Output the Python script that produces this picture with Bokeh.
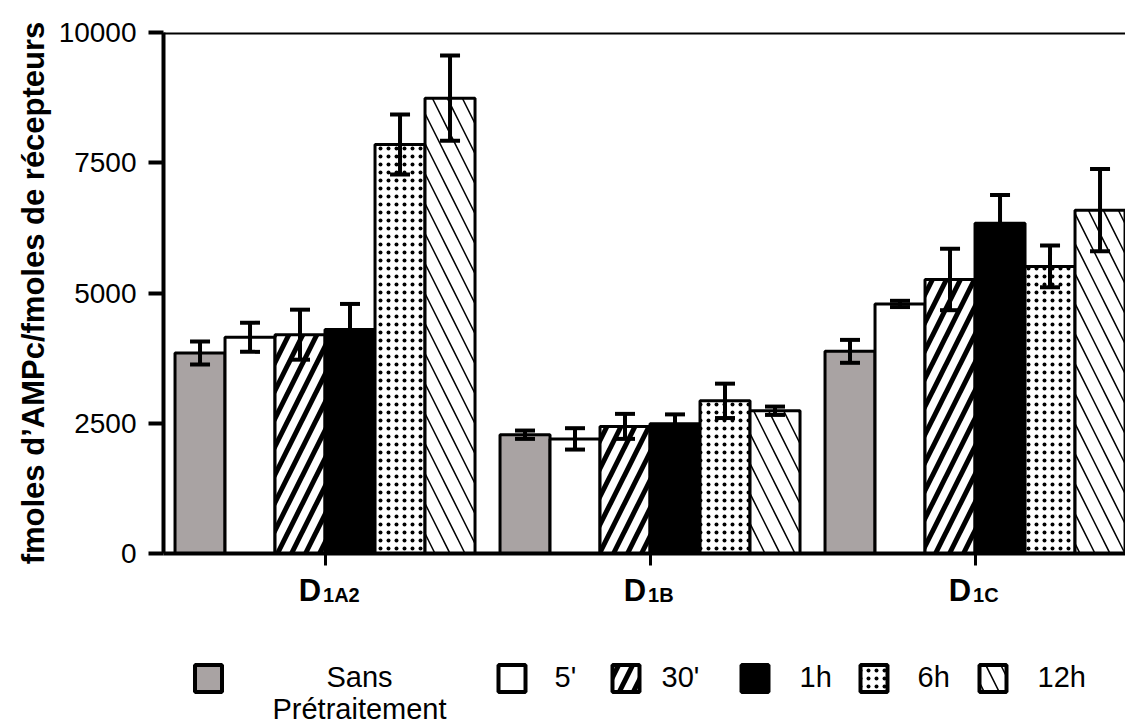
from bokeh.plotting import figure
from bokeh.models import (Range1d, FixedTicker, Span, Whisker, TeeHead, ColumnDataSource,
                          CustomJSTickFormatter)
from bokeh.layouts import column
from bokeh.embed import file_html
from bokeh.resources import INLINE
from bokeh.core.properties import value

# ---------------- data ----------------
groups = ["D1A2", "D1B", "D1C"]
group_main = ["D", "D", "D"]
group_sub = ["1A2", "1B", "1C"]
series = ["Sans Prétraitement", "5'", "30'", "1h", "6h", "12h"]
legend_labels = ["Sans\nPrétraitement", "5'", "30'", "1h", "6h", "12h"]

sans = [3850, 2280, 3880]
m5 = [4150, 2200, 4790]
m30 = [4200, 2440, 5260]
h1 = [4300, 2490, 6340]
h6 = [7850, 2930, 5510]
h12 = [8740, 2740, 6590]

err_sans = [220, 80, 220]
err_m5 = [280, 205, 60]
err_m30 = [480, 240, 590]
err_h1 = [490, 180, 540]
err_h6 = [575, 330, 400]
err_h12 = [820, 80, 790]

y_ticks = [0, 2500, 5000, 7500, 10000]
y_title = "fmoles d\u2019AMPc/fmoles de récepteurs"

means = [sans, m5, m30, h1, h6, h12]
errs = [err_sans, err_m5, err_m30, err_h1, err_h6, err_h12]

# ---------------- styles ----------------
FONT_NAME = "Liberation Sans"
FONT = value(FONT_NAME)
fills = ["#a9a3a3", "white", "white", "black", "white", "white"]
hatches = [None, None, "/", None, "dot", "\\"]
hatch_scales = [12, 12, 28, 12, 8, 30]
hatch_weights = [1, 1, 5, 1, 1.5, 1.5]
bar_w = 50 / 325
W = 1125
LEFT = 163

xr = Range1d(-0.497, 2.463)

p = figure(width=W, height=570, x_range=xr, y_range=Range1d(0, 10000),
           output_backend="svg", toolbar_location=None,
           min_border_left=LEFT, min_border_right=0, min_border_top=32, min_border_bottom=17)
p.grid.visible = False
p.outline_line_color = None

for k, (vals, ers) in enumerate(zip(means, errs)):
    xs = [i + (k - 2.5) * bar_w for i in range(len(groups))]
    src = ColumnDataSource(dict(x=xs, top=vals, upper=[v + e for v, e in zip(vals, ers)],
                                lower=[v - e for v, e in zip(vals, ers)]))
    kw = {}
    if hatches[k]:
        kw = dict(hatch_pattern=hatches[k], hatch_color="black",
                  hatch_scale=hatch_scales[k], hatch_weight=hatch_weights[k])
    p.vbar(x="x", top="top", bottom=0, width=bar_w, source=src, fill_color=fills[k],
           line_color="black", line_width=3, **kw)
    w = Whisker(base="x", upper="upper", lower="lower", source=src, line_width=4,
                line_color="black",
                upper_head=TeeHead(size=20, line_width=4, line_color="black"),
                lower_head=TeeHead(size=20, line_width=4, line_color="black"))
    w.level = "annotation"
    p.add_layout(w)

p.add_layout(Span(location=10000, dimension="width", line_width=4, line_color="black"))

# axes
p.xaxis.ticker = FixedTicker(ticks=list(range(len(groups))))
p.xaxis.formatter = CustomJSTickFormatter(code="return ''")
p.xaxis.major_label_text_font_size = "0px"
p.xaxis.major_label_standoff = 0
p.xaxis.axis_line_width = 4
p.xaxis.major_tick_line_width = 3
p.xaxis.major_tick_out = 12
p.xaxis.major_tick_in = 0
p.xaxis.minor_tick_line_color = None

p.yaxis.ticker = FixedTicker(ticks=y_ticks)
p.yaxis.axis_line_width = 4
p.yaxis.major_tick_line_width = 4
p.yaxis.major_tick_out = 15
p.yaxis.major_tick_in = 0
p.yaxis.minor_tick_line_color = None
p.yaxis.major_label_text_font = FONT_NAME
p.yaxis.major_label_text_font_size = "28px"
p.yaxis.major_label_text_color = "black"
p.yaxis.major_label_standoff = 12
p.yaxis.axis_label = y_title
p.yaxis.axis_label_text_font = FONT_NAME
p.yaxis.axis_label_text_font_style = "bold"
p.yaxis.axis_label_text_font_size = "31px"
p.yaxis.axis_label_text_color = "black"
p.yaxis.axis_label_standoff = 5

# ---------------- bottom strip: group labels + legend ----------------
SH = 157
lg = figure(width=W, height=SH, x_range=xr, y_range=Range1d(SH, 0),
            output_backend="svg", toolbar_location=None, x_axis_location=None,
            y_axis_location=None, min_border_left=LEFT, min_border_right=0,
            min_border_top=0, min_border_bottom=0)
lg.extra_x_ranges = {"px": Range1d(LEFT, W)}
lg.grid.visible = False
lg.outline_line_color = None

# group names with subscript, at the group positions of the shared x range
lg.text(x=list(range(len(groups))), y=[20] * len(groups), text=group_main, text_align="right",
        x_offset=-4, text_baseline="alphabetic", text_font=FONT, text_font_size="31px",
        text_font_style="bold", text_color="black")
lg.text(x=list(range(len(groups))), y=[24] * len(groups), text=group_sub, text_align="left",
        x_offset=-2, text_baseline="alphabetic", text_font=FONT, text_font_size="20px",
        text_font_style="bold", text_color="black")

# legend layout (pixel anchors)
sw_x = [208, 511.5, 625.5, 754.5, 873.5, 992.5]
sw_y = 108
lab_x = [359, 554, 661, 799, 917, 1037]
lab_align = ["center", "left", "left", "left", "left", "left"]
lab_base = 106
line_gap = 32

for k in range(len(series)):
    kw = {}
    if hatches[k]:
        kw = dict(hatch_pattern=hatches[k], hatch_color="black",
                  hatch_scale=hatch_scales[k], hatch_weight=hatch_weights[k])
    lg.rect(x=[sw_x[k]], y=[sw_y], width=27, height=27, fill_color=fills[k],
            line_color="black", line_width=4, x_range_name="px", **kw)
    lines = legend_labels[k].split("\n")
    lg.text(x=[lab_x[k]] * len(lines), y=[lab_base + j * line_gap for j in range(len(lines))],
            text=lines, text_align=lab_align[k], text_baseline="alphabetic",
            text_font=FONT, text_font_size="29px", text_color="black", x_range_name="px")

layout = column(p, lg, spacing=0)
open("out.html", "w").write(file_html(layout, INLINE))
